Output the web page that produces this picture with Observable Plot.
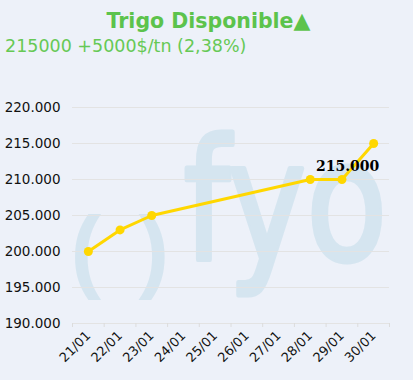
<!DOCTYPE html>
<html>
<head>
<meta charset="utf-8">
<script src="https://cdn.jsdelivr.net/npm/d3@7"></script>
<script src="https://cdn.jsdelivr.net/npm/@observablehq/plot@0.6"></script>
<style>
  html, body { margin: 0; padding: 0; background: #edf1f9; width: 413px; height: 380px; overflow: hidden; }
  #head { position: relative; height: 62px; }
  #title { position: absolute; left: 4px; right: 0; top: 11px; text-align: center; font: bold 20.5px/20px "DejaVu Sans"; color: #5cc34c; white-space: nowrap; }
  #title span { font-size: 22px; }
  #sub { position: absolute; left: 5px; top: 38px; font: 17.5px/17px "DejaVu Sans"; color: #66c955; white-space: nowrap; }
  #chart svg { display: block; }
</style>
</head>
<body>
<div id="head">
  <div id="title">Trigo Disponible<span>▲</span></div>
  <div id="sub">215000 +5000$/tn (2,38%)</div>
</div>
<div id="chart"></div>
<script>
const dates = ["21/01","22/01","23/01","24/01","25/01","26/01","27/01","28/01","29/01","30/01"];
const pointDates = ["21/01","22/01","23/01","28/01","29/01","30/01"];
const values = [200000, 203000, 205000, 210000, 210000, 215000];
const yTicks = [190000, 195000, 200000, 205000, 210000, 215000, 220000];

const fmt = d3.formatLocale({decimal: ",", thousands: ".", grouping: [3]}).format(",");
const rows = pointDates.map((d, i) => ({date: d, idx: dates.indexOf(d), value: values[i]}));
const bounds = d3.range(dates.length + 1).map(i => i - 0.5);
const wm = "#d5e5f0";

const chart = Plot.plot({
  width: 413,
  height: 318,
  marginLeft: 72,
  marginRight: 24,
  marginTop: 45,
  marginBottom: 57,
  style: {background: "transparent", fontFamily: "DejaVu Sans", fontSize: "13px", color: "#000", overflow: "visible"},
  x: {type: "linear", domain: [-0.5, dates.length - 0.5], axis: null},
  y: {domain: [190000, 220000], axis: null},
  marks: [
    Plot.text(["fyo"], {frameAnchor: "top-left", textAnchor: "start", lineAnchor: "bottom", dx: 111, dy: 152, fontSize: 168, fontFamily: "DejaVu Sans", fill: wm, stroke: wm, strokeWidth: 5, text: d => d, className: "wm-fyo"}),
    Plot.text(["("], {frameAnchor: "top-left", textAnchor: "start", lineAnchor: "bottom", dx: -2, dy: 173, fontSize: 92, fontWeight: "bold", fontFamily: "Liberation Sans", fill: wm, text: d => d}),
    Plot.text([")"], {frameAnchor: "top-left", textAnchor: "start", lineAnchor: "bottom", dx: 66, dy: 173, fontSize: 92, fontWeight: "bold", fontFamily: "Liberation Sans", fill: wm, text: d => d}),
    Plot.ruleY(yTicks, {stroke: "#e3e3e3", strokeWidth: 1}),
    Plot.axisY(yTicks, {tickFormat: fmt, tickSize: 0, tickPadding: 12, fontSize: 13.5, fill: "#111", label: null}),
    Plot.axisX(bounds, {tickFormat: () => "", tickSize: 4, stroke: "#dcdcdc", label: null}),
    Plot.axisX(d3.range(dates.length), {tickFormat: i => dates[i], tickSize: 0, tickPadding: 10, tickRotate: -45, fontSize: 13, fill: "#111", label: null}),
    Plot.line(rows, {x: "idx", y: "value", stroke: "#ffd700", strokeWidth: 3}),
    Plot.dot(rows, {x: "idx", y: "value", r: 4.5, fill: "#ffd700"}),
    Plot.text(rows.slice(-1), {x: "idx", y: "value", text: d => fmt(d.value), dx: -26, dy: 23, fontFamily: "DejaVu Serif", fontWeight: "bold", fontSize: 14, fill: "#000"})
  ]
});
d3.select(chart).selectAll(".wm-fyo text").attr("textLength", 204).attr("lengthAdjust", "spacingAndGlyphs");
document.getElementById("chart").appendChild(chart);
</script>
</body>
</html>
